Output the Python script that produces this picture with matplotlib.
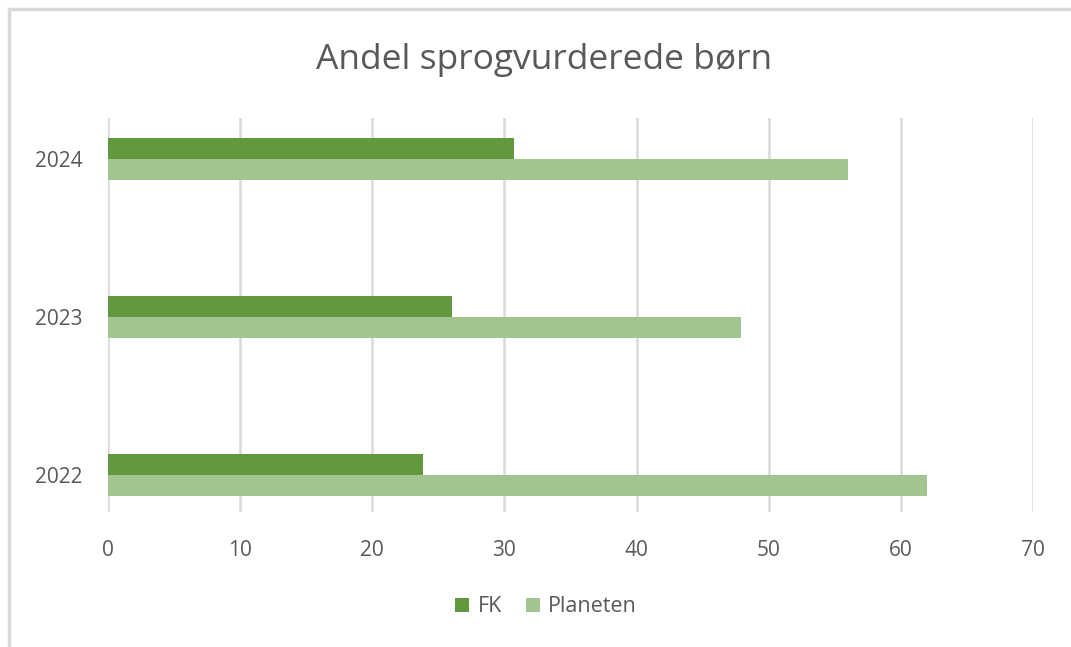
import matplotlib
matplotlib.use("Agg")
import matplotlib.pyplot as plt
from matplotlib.patches import Rectangle

years = ["2022", "2023", "2024"]
fk = [23.8, 26.0, 30.7]
planeten = [62.0, 47.9, 56.0]
series_names = ["FK", "Planeten"]
xticks = [0, 10, 20, 30, 40, 50, 60, 70]

plt.rcParams['font.family'] = ['Open Sans', 'DejaVu Sans']

W, H = 1071, 647
fig = plt.figure(figsize=(W / 100, H / 100), dpi=100)
fig.patch.set_facecolor("white")

# chart border (top and left visible)
fig.add_artist(Rectangle((9 / W, -0.05), 1.2, (H - 9) / H + 0.05, transform=fig.transFigure,
                         fill=False, edgecolor="#d9d9d9", linewidth=2.5))

left, right, top, bottom = 108, 1033, 118, 512
ax = fig.add_axes([left / W, 1 - bottom / H, (right - left) / W, (bottom - top) / H])

pos = list(range(len(years)))
h = 0.133
c_fk = "#62993E"
c_pl = "#A2C58F"
ax.barh([p + h / 2 for p in pos], fk, height=h, color=c_fk, label=series_names[0], zorder=3)
ax.barh([p - h / 2 for p in pos], planeten, height=h, color=c_pl, label=series_names[1], zorder=3)

ax.set_xlim(0, 70)
ax.set_ylim(-0.234, 2.26)
ax.set_xticks(xticks)
ax.set_xticklabels([str(t) for t in xticks])
ax.set_yticks(pos)
ax.set_yticklabels(years)
ax.grid(axis="x", color="#d9d9d9", linewidth=1.8, zorder=0)
for s in ax.spines.values():
    s.set_visible(False)
ax.tick_params(axis="both", length=0, labelsize=15, labelcolor="#595959")
ax.tick_params(axis="x", pad=20)
ax.tick_params(axis="y", pad=18)

fig.text(544 / W, 1 - 60 / H, "Andel sprogvurderede børn", ha="center", va="center",
         fontsize=25.5, color="#595959")

leg = fig.legend(loc="center", bbox_to_anchor=(546 / W, 1 - 607 / H), ncol=2, frameon=False,
                 fontsize=15.5, handlelength=0.65, handleheight=0.65, handletextpad=0.4,
                 columnspacing=1.1)
for t in leg.get_texts():
    t.set_color("#595959")

fig.savefig("out.png", dpi=100, facecolor="white")
